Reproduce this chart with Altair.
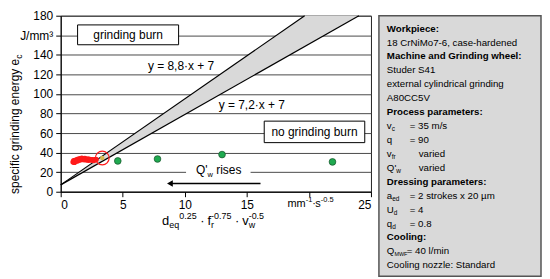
import altair as alt
import pandas as pd

# ---------------- data ----------------
X_MAX, Y_MAX = 25, 180
x_ticks = [0, 5, 10, 15, 20, 25]
y_ticks = [0, 20, 40, 60, 80, 100, 120, 140, 160, 180]

slopes = [8.8, 7.2]
intercept = 7
eq_labels = ["y = 8,8·x + 7", "y = 7,2·x + 7"]
eq_label_x = [9.7, 15.4]
eq_label_y = [129, 88.5]

red_x = [1.0, 1.05, 1.1, 1.15, 1.2, 1.3, 1.35, 1.4, 1.5, 1.55, 1.6, 1.7, 1.75,
         1.8, 1.9, 1.95, 2.0, 2.1, 2.2, 2.25, 2.35, 2.45, 2.55, 2.65, 2.75, 2.85]
red_y = [30.5, 31.8, 30.0, 32.0, 31.2, 32.8, 31.5, 33.2, 32.4, 33.8, 32.8, 34.2, 33.0,
         33.6, 32.6, 34.0, 33.2, 32.4, 33.4, 32.2, 33.0, 32.4, 32.8, 32.0, 32.6, 33.0]
green_x = [4.6, 7.8, 13.0, 21.9]
green_y = [31.5, 33.5, 38.0, 30.5]
hl_x = [3.35]
hl_y = [34.5]

box_labels = ["grinding burn", "no grinding burn"]
box_x1 = [1.36, 16.4]
box_x2 = [9.5, 24.5]
box_y1 = [150.3, 50.2]
box_y2 = [170.6, 72.2]

arrow_x = [8.8, 16.1]
arrow_y = [8.4, 8.4]

NB = "\u00a0"
panel_lines = [
    ("b", "Workpiece:"),
    ("n", "18 CrNiMo7-6, case-hardened"),
    ("b", "Machine and Grinding wheel:"),
    ("n", "Studer S41"),
    ("n", "external cylindrical grinding"),
    ("n", "A80CC5V"),
    ("b", "Process parameters:"),
    ("p", ("v", "c", "= 35 m/s")),
    ("p", ("q", "", "= 90")),
    ("p", ("v", "fr", "varied")),
    ("p", ("Q'", "w", "varied")),
    ("b", "Dressing parameters:"),
    ("p", ("a", "ed", "= 2 strokes x 20 µm")),
    ("p", ("U", "d", "= 4")),
    ("p", ("q", "d", "= 0.8")),
    ("b", "Cooling:"),
    ("p", ("Q", "MWF", "= 40 l/min")),
    ("n", "Cooling nozzle: Standard"),
]
value_col = {"=": 23, "v": 32}
value_col_mwf = 20

# ---------------- layout ----------------
FONT = "Liberation Sans"
W, H = 312, 177
PX_X = W / X_MAX
PX_Y = H / Y_MAX
PW, PH = 163, 262

AW = {' ': .278, NB: .278, '.': .278, ',': .278, '-': .333, '·': .278, "'": .191, '=': .584,
      'a': .556, 'b': .556, 'c': .5, 'd': .556, 'e': .556, 'f': .278, 'g': .556,
      'h': .556, 'i': .222, 'j': .222, 'k': .5, 'l': .222, 'm': .833, 'n': .556,
      'o': .556, 'p': .556, 'q': .556, 'r': .333, 's': .5, 't': .278, 'u': .556,
      'v': .5, 'w': .722, 'x': .5, 'y': .5, 'z': .5, 'Q': .778, 'U': .722,
      'M': .833, 'W': .944, 'F': .611}


def tw(s, size):
    return sum(AW.get(c, .556) for c in s) * size


def seg_rows(segs, x0, y0, main, script, sub_dy=3.0, sup_dy=-5.5):
    rows = []
    cx = 0.0
    for text, kind in segs:
        size = main if kind == "n" else script
        dy = 0 if kind == "n" else (sub_dy if kind in ("b", "bs") else sup_dy)
        lead = len(text) - len(text.lstrip(" "))
        shown = text.lstrip(" ")
        rows.append(dict(text=shown, x=x0 + (cx + tw(text[:lead], size)) / PX_X,
                         y=y0 - dy / PX_Y, size=size))
        if kind != "bs":
            cx += tw(text, size)
    return rows


xtitle_segs = [("d", "n"), ("eq", "b"), ("0.25", "p"), (" · ", "n"), ("f", "n"),
               ("r", "bs"), ("-0.75", "p"), (" · ", "n"), ("v", "n"), ("w", "bs"),
               ("-0.5", "p")]
unit_segs = [("mm", "n"), ("-1", "p"), ("·", "n"), ("s", "n"), ("-0.5", "p")]
q_segs = [("Q'", "n"), ("w", "b"), (" rises", "n")]

xtitle_df = pd.DataFrame(seg_rows(xtitle_segs, 8.17, -33.6, 13, 9))
unit_df = pd.DataFrame(seg_rows(unit_segs, 18.27, -15.3, 11, 7.5, sup_dy=-4.5))
q_df = pd.DataFrame(seg_rows(q_segs, 10.9, 18.0, 12, 7.5))

# ---------------- main plot ----------------
xs = alt.Scale(domain=[0, X_MAX], nice=False, zero=False)
ys = alt.Scale(domain=[0, Y_MAX], nice=False, zero=False)

x_axis = alt.Axis(values=x_ticks, title=None, grid=False, labelOverlap=False,
                  labelExpr="datum.value == 20 ? '' : datum.label",
                  labelFontSize=12, labelPadding=3, tickSize=5)
y_axis = alt.Axis(values=y_ticks, title=None, grid=True, gridColor="#4a4a4a", gridWidth=1,
                  labelOverlap=False,
                  labelExpr="datum.value == 160 ? 'J/mm³' : datum.label",
                  labelFontSize=12, labelPadding=3, tickSize=5)


def X(f):
    return alt.X(f, scale=xs, axis=x_axis, title=None)


def Y(f):
    return alt.Y(f, scale=ys, axis=y_axis, title=None)


x_end = [(Y_MAX - intercept) / s for s in slopes]
line_df = pd.DataFrame({
    "x": [0, x_end[0], 0, x_end[1]],
    "y": [intercept, Y_MAX, intercept, Y_MAX],
    "g": ["a", "a", "b", "b"],
})
band_df = pd.DataFrame({
    "x": [0, x_end[0], x_end[1]],
    "y": [intercept, Y_MAX, Y_MAX],
    "lo": [intercept, slopes[1] * x_end[0] + intercept, Y_MAX],
})

band = alt.Chart(band_df).mark_area(color="#d9d9d9", opacity=1).encode(
    x=X("x:Q"), y=Y("y:Q"), y2="lo:Q")

lines = alt.Chart(line_df).mark_line(color="black", strokeWidth=1.2).encode(
    x=X("x:Q"), y=Y("y:Q"), detail="g:N")

eq_text = alt.Chart(pd.DataFrame({"t": eq_labels, "x": eq_label_x, "y": eq_label_y})).mark_text(
    font=FONT, fontSize=12, color="black", align="center", baseline="middle").encode(
    x=X("x:Q"), y=Y("y:Q"), text="t:N")

boxes_df = pd.DataFrame({"t": box_labels, "x": box_x1, "x2": box_x2, "y": box_y1, "y2": box_y2})
boxes_df["cx"] = (boxes_df.x + boxes_df.x2) / 2
boxes_df["cy"] = (boxes_df.y + boxes_df.y2) / 2
boxes = alt.Chart(boxes_df).mark_rect(fill="white", stroke="black", strokeWidth=1).encode(
    x=X("x:Q"), x2="x2:Q", y=Y("y:Q"), y2="y2:Q")
box_text = alt.Chart(boxes_df).mark_text(
    font=FONT, fontSize=12, color="black", align="center", baseline="middle").encode(
    x=X("cx:Q"), y=Y("cy:Q"), text="t:N")

q_bg = alt.Chart(pd.DataFrame({"x": [10.1], "x2": [15.3], "y": [13.0], "y2": [27.0]})).mark_rect(
    fill="white").encode(x=X("x:Q"), x2="x2:Q", y=Y("y:Q"), y2="y2:Q")


def text_layer(df, **kw):
    return alt.Chart(df).mark_text(font=FONT, color="black", align="left",
                                   baseline="alphabetic", **kw).encode(
        x=X("x:Q"), y=Y("y:Q"), text="text:N",
        size=alt.Size("size:Q", scale=None, legend=None))


q_text = text_layer(q_df)
xtitle = text_layer(xtitle_df)
unit_text = text_layer(unit_df)

ytitle_df = pd.DataFrame([dict(text="specific grinding energy e", x=-3.37, y=136.0, size=12)])
ytitle = alt.Chart(ytitle_df).mark_text(font=FONT, color="black", align="right",
                                        baseline="alphabetic", angle=270).encode(
    x=X("x:Q"), y=Y("y:Q"), text="text:N",
    size=alt.Size("size:Q", scale=None, legend=None))
ysub_df = pd.DataFrame([dict(text="c", x=-3.37 + 3 / PX_X, y=136.0, size=8.5)])
ysub = alt.Chart(ysub_df).mark_text(font=FONT, color="black", align="left",
                                    baseline="alphabetic", angle=270).encode(
    x=X("x:Q"), y=Y("y:Q"), text="text:N",
    size=alt.Size("size:Q", scale=None, legend=None))

arrow_df = pd.DataFrame({"x": arrow_x, "y": arrow_y})
arrow_line = alt.Chart(arrow_df).mark_line(color="black", strokeWidth=1.5).encode(
    x=X("x:Q"), y=Y("y:Q"))
arrow_head = alt.Chart(arrow_df.iloc[[0]]).mark_point(
    shape="triangle-left", filled=True, color="black", size=45, opacity=1).encode(
    x=X("x:Q"), y=Y("y:Q"))

red = alt.Chart(pd.DataFrame({"x": red_x, "y": red_y})).mark_circle(
    color="#ff1a1a", size=30, opacity=1).encode(x=X("x:Q"), y=Y("y:Q"))
green = alt.Chart(pd.DataFrame({"x": green_x, "y": green_y})).mark_point(
    filled=True, fill="#1faa50", stroke="#1d5e33", strokeWidth=0.8, size=45, opacity=1).encode(
    x=X("x:Q"), y=Y("y:Q"))
hl_df = pd.DataFrame({"x": hl_x, "y": hl_y})
yellow = alt.Chart(hl_df).mark_circle(color="#d9b94f", size=20, opacity=1).encode(
    x=X("x:Q"), y=Y("y:Q"))
ring = alt.Chart(hl_df).mark_point(
    shape="circle", filled=False, stroke="#ff1a1a", strokeWidth=1.2, size=190, opacity=1).encode(
    x=X("x:Q"), y=Y("y:Q"))

left = alt.layer(
    band, lines, eq_text, boxes, box_text, q_bg, q_text, arrow_line, arrow_head,
    red, green, yellow, ring, xtitle, unit_text, ytitle, ysub,
).properties(width=W, height=H, view=alt.ViewBackground(stroke="#222", strokeWidth=1))

# ---------------- info panel ----------------
PAD_X, TOP, LINE_H = 8, 13, 14
FS, FS_SUB, FS_SUB_SMALL = 9.75, 6.5, 5.5
norm_rows, bold_rows, sub_rows = [], [], []
for i, (kind, content) in enumerate(panel_lines):
    y = TOP + i * LINE_H
    if kind == "b":
        bold_rows.append(dict(text=content, x=PAD_X, y=y))
    elif kind == "n":
        norm_rows.append(dict(text=content, x=PAD_X, y=y))
    else:
        sym, sub, val = content
        norm_rows.append(dict(text=sym, x=PAD_X, y=y))
        if sub:
            sub_rows.append(dict(text=sub, x=PAD_X + tw(sym, FS), y=y + 3,
                                 size=FS_SUB_SMALL if len(sub) > 2 else FS_SUB))
        col = value_col_mwf if sub == "MWF" else value_col.get(val[0], 23)
        norm_rows.append(dict(text=val, x=PAD_X + col, y=y))

pxs = alt.Scale(domain=[0, PW], nice=False, zero=False)
pys = alt.Scale(domain=[PH, 0], nice=False, zero=False)


def panel_text(rows, sized=False, **kw):
    enc = dict(x=alt.X("x:Q", scale=pxs, axis=None), y=alt.Y("y:Q", scale=pys, axis=None),
               text="text:N")
    if sized:
        enc["size"] = alt.Size("size:Q", scale=None, legend=None)
    return alt.Chart(pd.DataFrame(rows)).mark_text(
        font=FONT, color="black", align="left", baseline="middle", **kw).encode(**enc)


right = alt.layer(
    panel_text(norm_rows, fontSize=FS),
    panel_text(bold_rows, fontSize=FS, fontWeight="bold"),
    panel_text(sub_rows, sized=True),
).properties(width=PW, height=PH,
             view=alt.ViewBackground(fill="#d9d9d9", stroke="#555", strokeWidth=1.5))

chart = alt.hconcat(left, right, spacing=8, bounds="flush").properties(
    padding={"left": 0, "top": 0, "right": 0, "bottom": 0}
).configure_axis(
    labelFont=FONT, labelColor="black", domainColor="black", tickColor="black",
    domainWidth=1, tickWidth=1,
).configure_view(stroke=None)

chart.save("out.html", embed_options={"renderer": "svg", "actions": False})
